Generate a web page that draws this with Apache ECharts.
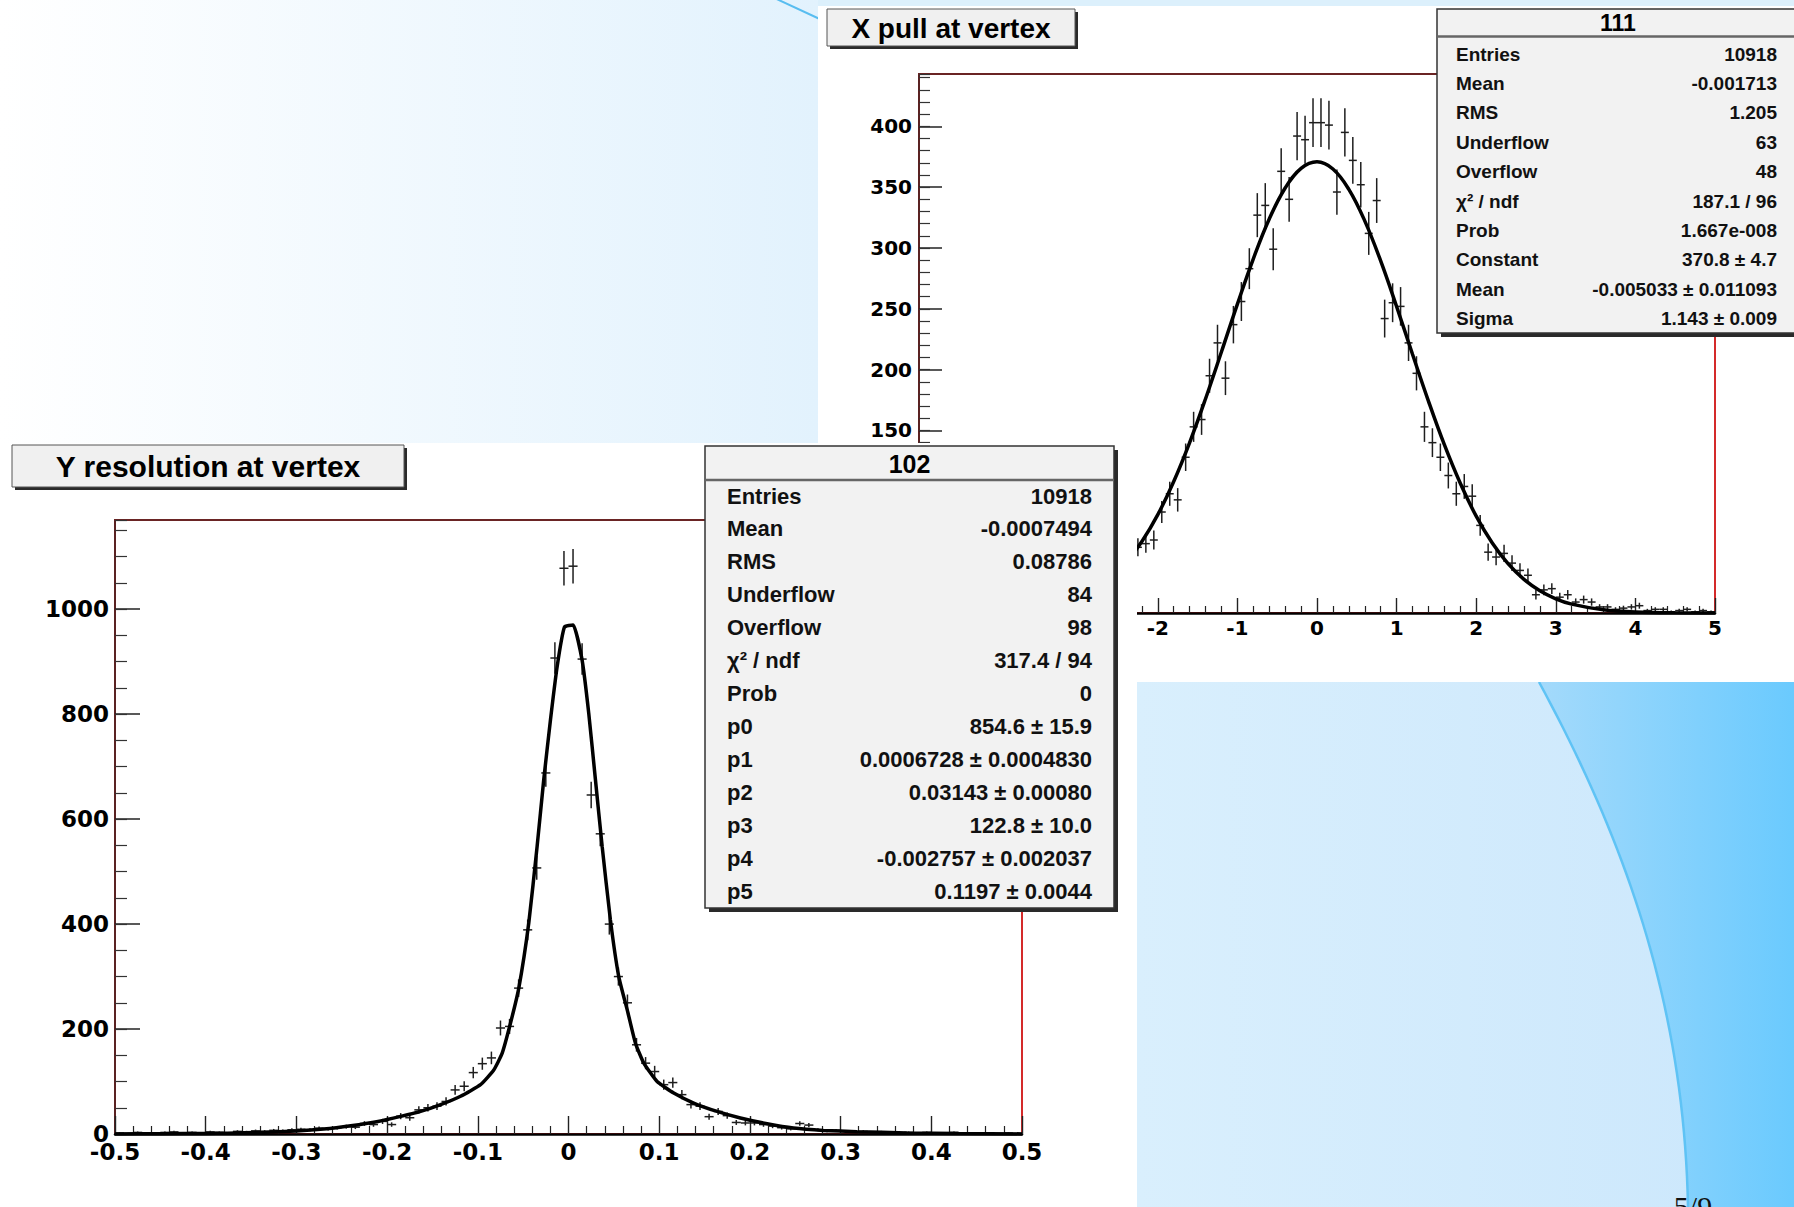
<!DOCTYPE html>
<html><head><meta charset="utf-8">
<script src="https://cdn.jsdelivr.net/npm/echarts@6/dist/echarts.min.js"></script>
<style>html,body{margin:0;padding:0;overflow:hidden;background:#fff}#c{width:1794px;height:1207px}</style>
</head><body><div id="c"></div>
<script>
// ---------- X pull at vertex : 100 bins over [-5, 5] ----------
var xPullRange = [-5, 5];
var xPullCounts = [
  0, 1, 0, 2, 1, 2, 1, 3, 2, 4,
  3, 5, 4, 6, 7, 8, 10, 12, 14, 15,
  19, 22, 26, 29, 35, 38, 46, 54, 57, 60,
  83, 98, 93, 128, 153, 159, 195, 222, 193, 237,
  256, 283, 327, 335, 299, 363, 340, 392, 389, 403,
  403, 401, 346, 395, 372, 352, 312, 339, 242, 255,
  252, 222, 197, 153, 140, 128, 113, 98, 104, 96,
  72, 50, 46, 49, 41, 35, 31, 15, 19, 20,
  13, 15, 9, 11, 9, 5, 5, 3, 4, 5,
  6, 2, 3, 3, 1, 2, 3, 1, 2, 1
];
var xPullFitX = [-5, -4.5, -4, -3.6, -3.2, -3, -2.8, -2.6, -2.4, -2.2, -2, -1.8, -1.6, -1.4, -1.2, -1, -0.8, -0.6, -0.4, -0.2,
  0, 0.2, 0.4, 0.6, 0.8, 1, 1.2, 1.4, 1.6, 1.8, 2, 2.2, 2.4, 2.6, 2.8, 3, 3.2, 3.6, 4, 4.5, 5];
var xPullFitY = [0.03, 0.16, 0.8, 2.6, 7.5, 12, 18.6, 28.2, 41.3, 58.7, 80.8, 108.1, 140.1, 176.1, 214.7, 253.9, 291.1, 323.8, 349.3, 365.4,
  370.8, 364.9, 348.2, 322.3, 289.4, 251.9, 212.7, 174.2, 138.3, 106.6, 79.6, 57.7, 40.5, 27.6, 18.3, 11.7, 7.3, 2.6, 0.8, 0.15, 0.03];
var xPullYMax = 443, xPullYStep = 50, xPullXStep = 1;
// tick labels of the X pull axes that stay visible (the rest lie under the Y resolution pad)
var xPullXTickLabels = [-2, -1, 0, 1, 2, 3, 4, 5];
var xPullYTickLabels = [150, 200, 250, 300, 350, 400];

// ---------- Y resolution at vertex : 100 bins over [-0.5, 0.5] ----------
var yResRange = [-0.5, 0.5];
var yResCounts = [
  2, 1, 3, 2, 1, 3, 4, 2, 3, 2,
  4, 3, 2, 5, 4, 6, 5, 7, 6, 8,
  9, 8, 11, 10, 12, 14, 13, 20, 18, 24,
  18, 34, 31, 46, 50, 53, 62, 84, 91, 117,
  134, 145, 202, 205, 278, 389, 507, 688, 907, 1078,
  1082, 905, 646, 572, 400, 300, 250, 170, 135, 119,
  94, 98, 75, 56, 53, 33, 43, 35, 22, 21,
  21, 18, 15, 12, 10, 20, 17, 8, 6, 7,
  5, 4, 5, 3, 4, 3, 2, 3, 2, 3,
  1, 2, 3, 1, 2, 1, 2, 1, 2, 1
];
var yResFitX = [-0.5, -0.45, -0.4, -0.376, -0.34, -0.3, -0.27, -0.24, -0.21, -0.185, -0.163, -0.141, -0.119, -0.097, -0.0824, -0.0731, -0.064, -0.0548, -0.0438, -0.0346, -0.0273, -0.0199, -0.0125, -0.0045,
  0.0051, 0.015, 0.0223, 0.0297, 0.0371, 0.0462, 0.0554, 0.0654, 0.0738, 0.083, 0.0977, 0.116, 0.138, 0.1638, 0.1895, 0.219, 0.248, 0.281, 0.318, 0.373, 0.43, 0.5];
var yResFitY = [0.2, 0.5, 1, 1.6, 3, 5.7, 9.5, 15.8, 24, 33.5, 43, 56, 72, 94, 122, 154, 211, 278, 402, 548, 675, 789, 891, 966,
  970, 903, 802, 675, 548, 408, 300, 232, 173, 135, 100, 78, 59, 43, 30.5, 19.6, 11.4, 6.9, 4.4, 2, 0.8, 0.2];
var yResYMax = 1170, yResYStep = 200, yResXStep = 0.1;

// ---------- titles and statistics boxes ----------
var titleX = 'X pull at vertex';
var titleY = 'Y resolution at vertex';
var statsXName = '111';
var statsXLabels = ['Entries', 'Mean', 'RMS', 'Underflow', 'Overflow', 'χ² / ndf', 'Prob', 'Constant', 'Mean', 'Sigma'];
var statsXValues = ['10918', '-0.001713', '1.205', '63', '48', '187.1 / 96', '1.667e-008', '370.8 ± 4.7', '-0.005033 ± 0.011093', '1.143 ± 0.009'];
var statsYName = '102';
var statsYLabels = ['Entries', 'Mean', 'RMS', 'Underflow', 'Overflow', 'χ² / ndf', 'Prob', 'p0', 'p1', 'p2', 'p3', 'p4', 'p5'];
var statsYValues = ['10918', '-0.0007494', '0.08786', '84', '98', '317.4 / 94', '0', '854.6 ± 15.9', '0.0006728 ± 0.0004830', '0.03143 ± 0.00080', '122.8 ± 10.0', '-0.002757 ± 0.002037', '0.1197 ± 0.0044'];
var pageLabel = '5/9';

// ---------- helpers ----------
function histPoints(range, counts) {
  var w = (range[1] - range[0]) / counts.length;
  return counts.map(function (c, i) { return [+(range[0] + (i + 0.5) * w).toFixed(6), c]; });
}
function pairs(xs, ys) { return xs.map(function (x, i) { return [x, ys[i]]; }); }
function crossRenderer(binW) {
  return function (params, api) {
    var x = api.value(0), y = api.value(1);
    if (!(y > 0)) return null;
    var e = Math.sqrt(y);
    var c = api.coord([x, y]);
    var l = api.coord([x - binW / 2, y]);
    var r = api.coord([x + binW / 2, y]);
    var t = api.coord([x, y + e]);
    var b = api.coord([x, Math.max(0, y - e)]);
    var st = { stroke: '#1e1e1e', lineWidth: 1.5 };
    return { type: 'group', children: [
      { type: 'line', shape: { x1: l[0], y1: c[1], x2: r[0], y2: c[1] }, style: st },
      { type: 'line', shape: { x1: c[0], y1: t[1], x2: c[0], y2: b[1] }, style: st }
    ] };
  };
}
function txt(x, y, s, size, align, z, opts) {
  opts = opts || {};
  return { type: 'text', x: x, y: y, z: z, silent: true,
    style: { text: s, fontSize: size, fontWeight: opts.weight || 'bold', fontFamily: opts.family || 'Liberation Sans',
      fill: opts.color || '#000', textAlign: align, align: align, textVerticalAlign: 'middle', verticalAlign: 'middle' } };
}
function rect(x, y, w, h, fill, z, stroke, lw) {
  return { type: 'rect', z: z, silent: true, shape: { x: x, y: y, width: w, height: h },
    style: { fill: fill, stroke: stroke || null, lineWidth: lw || 0 } };
}
function lin(x1, y1, x2, y2, color, w, z) {
  return { type: 'line', z: z, silent: true, shape: { x1: x1, y1: y1, x2: x2, y2: y2 }, style: { stroke: color, lineWidth: w } };
}
function grad(c0, c1) {
  return { type: 'linear', x: 0, y: 0, x2: 1, y2: 0, colorStops: [{ offset: 0, color: c0 }, { offset: 1, color: c1 }] };
}
function onlyLabels(list) {
  return function (v) {
    for (var i = 0; i < list.length; i++) if (Math.abs(list[i] - v) < 1e-9) return String(list[i]);
    return '';
  };
}
function plainLabel(v) { return String(+v.toFixed(6)); }

// ---------- decorative slide background ----------
var arcP = [[1539, 682], [1622, 835], [1684, 1000], [1688, 1207]];
function bez(t) {
  var u = 1 - t;
  return [u*u*u*arcP[0][0] + 3*u*u*t*arcP[1][0] + 3*u*t*t*arcP[2][0] + t*t*t*arcP[3][0],
          u*u*u*arcP[0][1] + 3*u*u*t*arcP[1][1] + 3*u*t*t*arcP[2][1] + t*t*t*arcP[3][1]];
}
var arcPts = [];
for (var k = 0; k <= 40; k++) arcPts.push(bez(k / 40));
var darkPoly = arcPts.concat([[1794, 1207], [1794, 682]]);

var G = [];
G.push(rect(0, 0, 1794, 1207, '#ffffff', 0));
G.push(rect(0, 0, 818, 443, grad('#ffffff', '#e2f2fd'), 0));
G.push(rect(818, 0, 976, 6, '#dcf0fc', 0));
G.push(lin(768, -5, 824, 21, '#58bdf0', 2, 1));
G.push(rect(1137, 682, 657, 525, grad('#d9effd', '#cbe7fc'), 1));
G.push({ type: 'polygon', z: 2, silent: true, shape: { points: darkPoly }, style: { fill: grad('#a4dafb', '#6acafe') } });
G.push({ type: 'polyline', z: 3, silent: true, shape: { points: arcPts }, style: { stroke: '#5fc3f5', lineWidth: 2.5, fill: null } });
G.push(txt(1693, 1206, pageLabel, 30, 'center', 3, { weight: 'normal', family: 'Liberation Serif', color: '#111' }));

// X pull canvas
G.push(rect(818, 6, 976, 676, '#ffffff', 4));
// X title box
G.push(rect(830, 12, 248, 37, '#2a2a2a', 9));
G.push(rect(827, 9, 248, 37, '#f0f0f0', 10, '#555', 1));
G.push(txt(951, 28, titleX, 28, 'center', 11));
// stats 111
G.push(rect(1441, 13, 360, 324, '#2a2a2a', 9));
G.push(rect(1437, 9, 362, 324, '#f2f2f2', 10, '#333', 1.5));
G.push(lin(1437, 36.5, 1799, 36.5, '#666', 2.5, 10));
G.push(txt(1618, 23, statsXName, 23, 'center', 11));
statsXLabels.forEach(function (s, i) {
  G.push(txt(1456, 54 + i * 29.4, s, 19, 'left', 11, { color: '#111' }));
  G.push(txt(1777, 54 + i * 29.4, statsXValues[i], 19, 'right', 11, { color: '#111' }));
});

// Y resolution canvas
G.push(rect(0, 443, 1137, 764, '#ffffff', 12));
G.push(rect(15, 448, 392, 42, '#2a2a2a', 17));
G.push(rect(12, 445, 392, 42, '#f0f0f0', 18, '#555', 1));
G.push(txt(208, 466, titleY, 30, 'center', 19));
// stats 102
G.push(rect(709, 450, 409, 462, '#2a2a2a', 17));
G.push(rect(705, 446, 409, 462, '#f2f2f2', 18, '#333', 1.5));
G.push(lin(705, 480, 1114, 480, '#666', 2.5, 18));
G.push(txt(909.5, 464, statsYName, 25, 'center', 19));
statsYLabels.forEach(function (s, i) {
  G.push(txt(727, 496 + i * 32.97, s, 22, 'left', 19, { color: '#111' }));
  G.push(txt(1092, 496 + i * 32.97, statsYValues[i], 22, 'right', 19, { color: '#111' }));
});

// ---------- axes ----------
var labelFont = { fontFamily: 'DejaVu Sans', fontWeight: 'bold', color: '#000' };
function mainX(grid, min, max, step, z, fs, tickLen, minorLen, margin, fmt) {
  return { gridIndex: grid, type: 'value', min: min, max: max, interval: step, position: 'bottom', z: z,
    axisLine: { show: true, onZero: false, lineStyle: { color: '#000', width: 2.5 } },
    axisTick: { show: true, inside: true, length: tickLen, lineStyle: { color: '#222', width: 1.4 } },
    minorTick: { show: true, splitNumber: 5, length: minorLen, lineStyle: { color: '#222', width: 1.2 } },
    splitLine: { show: false }, minorSplitLine: { show: false },
    axisLabel: Object.assign({ fontSize: fs, margin: margin, showMinLabel: true, showMaxLabel: true, formatter: fmt }, labelFont) };
}
function topX(grid, min, max, z) {
  return { gridIndex: grid, type: 'value', min: min, max: max, position: 'top', z: z,
    axisLine: { show: true, onZero: false, lineStyle: { color: '#6a2424', width: 2 } },
    axisTick: { show: false }, axisLabel: { show: false }, splitLine: { show: false } };
}
function mainY(grid, max, step, z, fs, tickLen, margin, fmt) {
  return { gridIndex: grid, type: 'value', min: 0, max: max, interval: step, position: 'left', z: z,
    axisLine: { show: true, onZero: false, lineStyle: { color: '#5a2222', width: 2 } },
    axisTick: { show: true, inside: true, length: tickLen, lineStyle: { color: '#222', width: 1.5 } },
    splitLine: { show: false },
    axisLabel: Object.assign({ fontSize: fs, margin: margin, showMinLabel: true, showMaxLabel: false, formatter: fmt }, labelFont) };
}
function minorY(grid, max, step, z, tickLen) {
  return { gridIndex: grid, type: 'value', min: 0, max: max, interval: step, position: 'left', offset: 0, z: z,
    axisLine: { show: false, onZero: false },
    axisTick: { show: true, inside: true, length: tickLen, lineStyle: { color: '#333', width: 1.2 } },
    axisLabel: { show: false }, splitLine: { show: false } };
}

var option = {
  animation: false,
  backgroundColor: 'transparent',
  graphic: { elements: G },
  grid: [
    { left: 919, top: 74, width: 796, height: 539, show: true, borderColor: '#d42a2a', borderWidth: 2,
      backgroundColor: 'rgba(0,0,0,0)', z: 5, containLabel: false, outerBoundsMode: 'none' },
    { left: 115, top: 520, width: 907, height: 614, show: true, borderColor: '#d42a2a', borderWidth: 2,
      backgroundColor: 'rgba(0,0,0,0)', z: 13, containLabel: false, outerBoundsMode: 'none' }
  ],
  xAxis: [
    mainX(0, xPullRange[0], xPullRange[1], xPullXStep, 6, 20, 15, 7, 5, onlyLabels(xPullXTickLabels)),
    topX(0, xPullRange[0], xPullRange[1], 6),
    mainX(1, yResRange[0], yResRange[1], yResXStep, 14, 23, 18, 8, 6, plainLabel),
    topX(1, yResRange[0], yResRange[1], 14)
  ],
  yAxis: [
    mainY(0, xPullYMax, xPullYStep, 6, 20, 23, 7, onlyLabels(xPullYTickLabels)),
    minorY(0, xPullYMax, xPullYStep / 5, 6, 11),
    mainY(1, yResYMax, yResYStep, 14, 23, 25, 6, plainLabel),
    minorY(1, yResYMax, yResYStep / 4, 14, 12)
  ],
  series: [
    { type: 'custom', name: 'X pull data', xAxisIndex: 0, yAxisIndex: 0, z: 7, silent: true,
      renderItem: crossRenderer((xPullRange[1] - xPullRange[0]) / xPullCounts.length),
      encode: { x: 0, y: 1 }, data: histPoints(xPullRange, xPullCounts) },
    { type: 'line', name: 'X pull fit', xAxisIndex: 0, yAxisIndex: 0, z: 8, silent: true,
      data: pairs(xPullFitX, xPullFitY), smooth: 0.4, symbol: 'none', showSymbol: false,
      lineStyle: { color: '#000', width: 3.5 } },
    { type: 'custom', name: 'Y resolution data', xAxisIndex: 2, yAxisIndex: 2, z: 15, silent: true,
      renderItem: crossRenderer((yResRange[1] - yResRange[0]) / yResCounts.length),
      encode: { x: 0, y: 1 }, data: histPoints(yResRange, yResCounts) },
    { type: 'line', name: 'Y resolution fit', xAxisIndex: 2, yAxisIndex: 2, z: 16, silent: true,
      data: pairs(yResFitX, yResFitY), smooth: 0.15, symbol: 'none', showSymbol: false,
      lineStyle: { color: '#000', width: 3.5 } }
  ]
};
var chart = echarts.init(document.getElementById('c'), null, { renderer: 'svg', width: 1794, height: 1207 });
chart.setOption(option);
</script>
</body></html>
